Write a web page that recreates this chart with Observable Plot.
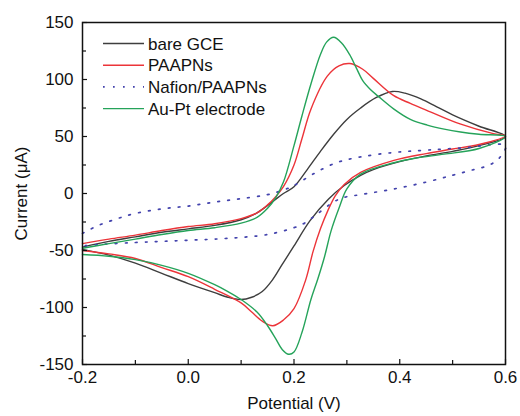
<!DOCTYPE html>
<html>
<head>
<meta charset="utf-8">
<script src="https://cdn.jsdelivr.net/npm/d3@7"></script>
<script src="https://cdn.jsdelivr.net/npm/@observablehq/plot@0.6"></script>
<style>
  html, body { margin: 0; padding: 0; background: #fff; }
  #chart { width: 520px; height: 416px; }
</style>
</head>
<body>
<div id="chart"></div>
<script>
// Cyclic voltammograms: forward sweep -0.2 → 0.6 V, then reverse back to -0.2 V.
// Each entry is [potential (V), current (µA)].
const bareGCE = [
  [-0.2,-47],[-0.15,-42],[-0.1,-38],[-0.05,-34],[0,-31],[0.05,-28],[0.1,-23],[0.13,-17],
  [0.16,-7],[0.18,0],[0.2,6],[0.225,21],[0.25,37],[0.275,52],[0.3,65],[0.326,75],[0.355,84],
  [0.386,89.5],[0.41,88],[0.44,83],[0.47,76],[0.5,69],[0.55,59],[0.6,50],
  [0.55,42],[0.5,37],[0.45,33],[0.4,28],[0.35,21],[0.326,16],[0.295,7],[0.265,-5],[0.23,-24],
  [0.2,-46],[0.178,-62],[0.159,-76],[0.14,-86],[0.12,-91],[0.1,-93],[0.075,-91],[0.05,-87],
  [0,-79],[-0.05,-70],[-0.1,-61],[-0.15,-54],[-0.2,-49]
];
const paapns = [
  [-0.2,-44],[-0.15,-40],[-0.1,-36.5],[-0.05,-32.5],[0,-29],[0.05,-26.5],[0.1,-22],[0.13,-17],
  [0.15,-10],[0.165,-3],[0.18,6],[0.2,25],[0.215,48],[0.232,74],[0.263,103],[0.285,112],
  [0.306,114],[0.33,109],[0.35,101],[0.388,86],[0.42,79],[0.451,73],[0.514,61],[0.577,52.5],[0.6,50.5],
  [0.55,43],[0.5,39],[0.45,35],[0.389,29],[0.326,18.5],[0.295,8],[0.278,-2],[0.264,-15],[0.25,-31],
  [0.236,-51],[0.222,-76],[0.2,-101],[0.18,-111],[0.16,-116],[0.14,-112],[0.12,-104],[0.1,-96],
  [0.05,-84],[0,-73],[-0.05,-65],[-0.1,-57],[-0.15,-53],[-0.2,-50]
];
const nafionPaapns = [
  [-0.2,-35],[-0.17,-28],[-0.137,-22.5],[-0.105,-18],[-0.05,-13.5],[0,-11],[0.05,-7.5],[0.1,-4.5],
  [0.15,-1],[0.18,3],[0.2,7],[0.236,17],[0.28,27],[0.325,32],[0.389,36],[0.45,38],[0.52,40],[0.6,42],
  [0.59,32],[0.57,25],[0.54,21],[0.5,16],[0.45,10],[0.389,4],[0.326,-1],[0.29,-4],[0.27,-9],[0.241,-19],
  [0.22,-26],[0.2,-30],[0.15,-36],[0.1,-38.5],[0.05,-40],[0,-41],[-0.05,-42],[-0.1,-43],
  [-0.16,-44.5],[-0.2,-46]
];
const auPt = [
  [-0.2,-48],[-0.15,-44],[-0.1,-40],[-0.05,-36],[0,-32.5],[0.05,-30],[0.1,-26],[0.13,-21],
  [0.15,-13],[0.165,-4],[0.18,10],[0.2,42],[0.215,68],[0.232,96],[0.25,122],[0.262,133],
  [0.275,137],[0.29,132],[0.305,122],[0.318,110],[0.33,99],[0.345,91],[0.36,85],[0.389,74],
  [0.42,65],[0.452,60],[0.484,56.5],[0.515,54],[0.55,52],[0.6,50],
  [0.55,39.5],[0.484,34.5],[0.43,31],[0.389,27],[0.326,17],[0.3,4],[0.285,-13],[0.27,-33],
  [0.258,-55],[0.245,-75],[0.232,-93],[0.215,-122],[0.2,-139],[0.19,-141],[0.178,-137],
  [0.165,-127],[0.15,-116],[0.13,-104],[0.1,-93],[0.075,-86],[0.05,-80],[0,-70],[-0.05,-63],
  [-0.1,-58],[-0.15,-55],[-0.2,-53.5]
];

const seriesNames  = ["bare GCE", "PAAPNs", "Nafion/PAAPNs", "Au-Pt electrode"];
const seriesData   = [bareGCE, paapns, nafionPaapns, auPt];
const seriesColors = ["#3e3e3e", "#ec3439", "#4343ad", "#25a35a"];
const seriesDash   = [null, null, "1.7,8.3", null];
const seriesWidth  = [1.4, 1.4, 1.7, 1.4];

const xTicks = [-0.2, 0.0, 0.2, 0.4, 0.6];
const xMinorTicks = [-0.1, 0.1, 0.3, 0.5];
const yTicks = [-150, -100, -50, 0, 50, 100, 150];
const yMinorTicks = [-125, -75, -25, 25, 75, 125];

const W = 520, H = 416;
const mL = 82, mR = 15, mT = 22, mB = 52;
const innerW = W - mL - mR, innerH = H - mT - mB;
const font = "'Liberation Sans', Arial, Helvetica, sans-serif";
const fontSize = 17;

const lines = seriesData.map((pts, i) =>
  Plot.line(pts, {
    x: d => d[0], y: d => d[1],
    stroke: seriesColors[i],
    strokeWidth: seriesWidth[i],
    strokeDasharray: seriesDash[i] ?? undefined,
    curve: "catmull-rom"
  })
);

const chart = Plot.plot({
  width: W, height: H,
  marginLeft: mL, marginRight: mR, marginTop: mT, marginBottom: mB,
  style: { fontFamily: font, fontSize: fontSize + "px", color: "#111", background: "#fff" },
  x: { domain: [-0.2, 0.6] },
  y: { domain: [-150, 150] },
  marks: [
    ...lines,
    // inward tick marks along the left and bottom edges
    Plot.tickY(yTicks, { y: d => d, insetRight: innerW - 5, stroke: "#111", strokeWidth: 1.2 }),
    Plot.tickY(yMinorTicks, { y: d => d, insetRight: innerW - 4, stroke: "#111", strokeWidth: 1.2 }),
    Plot.tickX(xTicks, { x: d => d, insetTop: innerH - 5, stroke: "#111", strokeWidth: 1.2 }),
    Plot.tickX(xMinorTicks, { x: d => d, insetTop: innerH - 4, stroke: "#111", strokeWidth: 1.2 }),
    Plot.axisX(xTicks, {
      tickSize: 0, tickPadding: 6, tickFormat: d => d.toFixed(1),
      label: "Potential (V)", labelAnchor: "center", labelArrow: "none", labelOffset: 44
    }),
    Plot.axisY(yTicks, {
      tickSize: 0, tickPadding: 9, tickFormat: d => String(d),
      label: "Current (μA)", labelAnchor: "center", labelArrow: "none", labelOffset: 68
    }),
    Plot.frame({ stroke: "#111", strokeWidth: 1.5 })
  ]
});

// Legend in the upper-left corner of the plotting area
const svg = d3.select(chart);
const legend = svg.append("g")
  .attr("font-family", font).attr("font-size", fontSize)
  .attr("fill", "#111").attr("text-anchor", "start");
seriesNames.forEach((name, i) => {
  const y = 43.5 + i * 21.7;
  legend.append("line")
    .attr("x1", 103).attr("x2", 144).attr("y1", y).attr("y2", y)
    .attr("stroke", seriesColors[i])
    .attr("stroke-width", seriesWidth[i])
    .attr("stroke-dasharray", seriesDash[i]);
  legend.append("text")
    .attr("x", 148).attr("y", y).attr("dy", "0.36em")
    .text(name);
});

document.getElementById("chart").appendChild(chart);
</script>
</body>
</html>
